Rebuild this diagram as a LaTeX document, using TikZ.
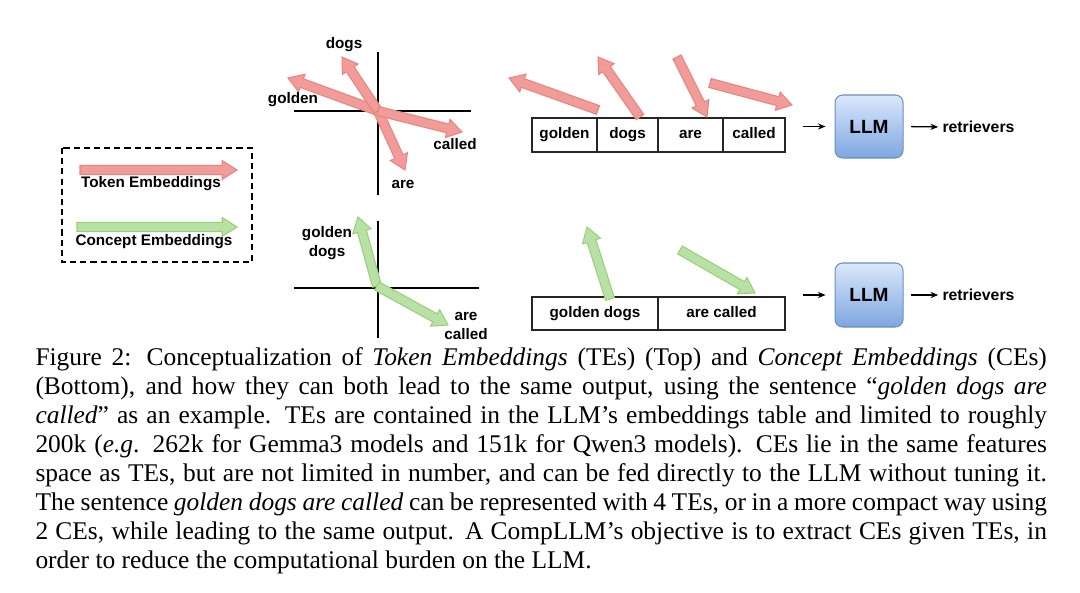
\documentclass[tikz,border=0pt]{standalone}
\usepackage{fontspec}
\setmainfont{Liberation Serif}
\setsansfont{Liberation Sans}
\usetikzlibrary{calc,arrows.meta}

\definecolor{tefill}{HTML}{F19C99}
\definecolor{tedraw}{HTML}{E8837F}
\definecolor{cefill}{HTML}{B9E0A5}
\definecolor{cedraw}{HTML}{97D077}
\definecolor{llmtop}{HTML}{DAE8FC}
\definecolor{llmbot}{HTML}{7EA6E0}
\definecolor{llmdraw}{HTML}{6C8EBF}

\def\pxu{0.393pt}
% fat arrow from #2 to #3
\newcommand{\embarrow}[3]{%
  \path ($(#3)!5.8pt!(#2)$) coordinate (hb);
  \draw[#1] ($(#2)!1.8pt!90:(#3)$) -- ($(hb)!1.8pt!90:(#3)$) -- ($(hb)!3.7pt!90:(#3)$)
    -- (#3) -- ($(hb)!3.7pt!-90:(#3)$) -- ($(hb)!1.8pt!-90:(#3)$) -- ($(#2)!1.8pt!-90:(#3)$) -- cycle;}

\begin{document}
\begin{tikzpicture}[x=\pxu, y=-\pxu,
  lbl/.style={font=\sffamily\bfseries\fontsize{6}{7.5}\selectfont, inner sep=0, align=center},
  te/.style={fill=tefill, draw=tedraw, line width=0.4pt},
  ce/.style={fill=cefill, draw=cedraw, line width=0.4pt},
  cell/.style={draw=black!85, line width=0.5pt, inner sep=0, text height=4.4pt, text depth=1.3pt,
    font=\sffamily\bfseries\fontsize{6}{7.5}\selectfont},
  llm/.style={draw=llmdraw, line width=0.4pt, rounded corners=3pt, top color=llmtop, bottom color=llmbot,
    minimum width=68*\pxu, minimum height=63*\pxu, font=\sffamily\bfseries\fontsize{7.5}{9}\selectfont},
  thinarr/.style={-{Stealth[length=3pt,width=2.4pt]}, line width=0.5pt},
  axis/.style={line width=0.5pt}]
\useasboundingbox (0,0) rectangle (1080,592);

% legend
\draw[line width=0.8pt, dash pattern=on 2.4pt off 1.6pt] (62,148) rectangle (252,262);
\coordinate (lt1) at (80,170); \coordinate (lt2) at (237,170);
\coordinate (lc1) at (77,227); \coordinate (lc2) at (237,227);
\embarrow{te}{lt1}{lt2}
\embarrow{ce}{lc1}{lc2}
\node[lbl] (tetext) at (151,184) {Token Embeddings};
\node[lbl] (cetext) at (154,242) {Concept Embeddings};

% token space
\draw[axis] (378,52) -- (378,195);
\draw[axis] (294,111) -- (471,111);
\coordinate (o1) at (378,111);
\coordinate (tgolden) at (288,78);
\coordinate (tdogs) at (342,57);
\coordinate (tare) at (405,170);
\coordinate (tcalled) at (462,132);
\embarrow{te}{o1}{tgolden}
\embarrow{te}{o1}{tdogs}
\embarrow{te}{o1}{tare}
\embarrow{te}{o1}{tcalled}
\node[lbl] (ldogs) at (344,45) {dogs};
\node[lbl] (lgolden) at (293,100) {golden};
\node[lbl] (lcalled) at (455,144) {called};
\node[lbl] (lare) at (403,184) {are};

% concept space
\draw[axis] (378,221) -- (378,338);
\draw[axis] (294,288) -- (479,288);
\coordinate (o2) at (377,286);
\coordinate (cgd) at (358,217);
\coordinate (cac) at (448,325);
\embarrow{ce}{o2}{cgd}
\embarrow{ce}{o2}{cac}
\node[lbl] (lgd) at (327,243) {golden\\dogs};
\node[lbl] (lac) at (466,326) {are\\called};

% token input
\node[cell, minimum width=65*\pxu, minimum height=34*\pxu] (tg) at (564.5,135) {golden};
\node[cell, minimum width=61*\pxu, minimum height=34*\pxu] (td) at (627.5,135) {dogs};
\node[cell, minimum width=65*\pxu, minimum height=34*\pxu] (ta) at (690.5,135) {are};
\node[cell, minimum width=62*\pxu, minimum height=34*\pxu] (tc) at (754,135) {called};
\coordinate (ag1) at (598,110); \coordinate (ag2) at (509,78);
\coordinate (ad1) at (640,117); \coordinate (ad2) at (598,57);
\coordinate (aa1) at (677,57);  \coordinate (aa2) at (707,117);
\coordinate (ac1) at (710,83);  \coordinate (ac2) at (792,105);
\embarrow{te}{ag1}{ag2}
\embarrow{te}{ad1}{ad2}
\embarrow{te}{aa1}{aa2}
\embarrow{te}{ac1}{ac2}

\node[llm] (llm1) at (869,126.5) {LLM};
\node[lbl, anchor=west, font=\sffamily\bfseries\fontsize{6.2}{7.5}\selectfont] (ret1) at (942,127) {retrievers};
\draw[thinarr, shorten <=6.7pt, shorten >=3.5pt] (llm1.west -| tc.east) -- (llm1.west);
\draw[thinarr, shorten <=3pt, shorten >=1.5pt] (llm1.east) -- (ret1.west);

% concept input
\node[cell, minimum width=126*\pxu, minimum height=33*\pxu] (cg) at (595,313.5) {golden dogs};
\node[cell, minimum width=127*\pxu, minimum height=33*\pxu] (cc) at (721.5,313.5) {are called};
\coordinate (bg1) at (610,299); \coordinate (bg2) at (587,227);
\coordinate (bc1) at (680,250); \coordinate (bc2) at (755,293);
\embarrow{ce}{bg1}{bg2}
\embarrow{ce}{bc1}{bc2}

\node[llm, minimum height=64*\pxu] (llm2) at (869,295) {LLM};
\node[lbl, anchor=west, font=\sffamily\bfseries\fontsize{6.2}{7.5}\selectfont] (ret2) at (942,295) {retrievers};
\draw[thinarr, shorten <=6.7pt, shorten >=3.5pt] (llm2.west -| cc.east) -- (llm2.west);
\draw[thinarr, shorten <=3pt, shorten >=1.5pt] (llm2.east) -- (ret2.west);

% caption
\node[anchor=base west, inner sep=0] (caption) at (35,365) {\parbox[t]{397.5pt}{\fontsize{10}{11.4}\selectfont
Figure 2: Conceptualization of \emph{Token Embeddings} (TEs) (Top) and \emph{Concept Embeddings} (CEs)\linebreak
(Bottom), and how they can both lead to the same output, using the sentence ``\emph{golden dogs are\linebreak
called}'' as an example. TEs are contained in the LLM's embeddings table and limited to roughly\linebreak
200k (\emph{e.g}. 262k for Gemma3 models and 151k for Qwen3 models). CEs lie in the same features\linebreak
space as TEs, but are not limited in number, and can be fed directly to the LLM without tuning it.\linebreak
The sentence \emph{golden dogs are called} can be represented with 4 TEs, or in a more compact way using\linebreak
2 CEs, while leading to the same output. A CompLLM's objective is to extract CEs given TEs, in\linebreak
order to reduce the computational burden on the LLM.}};
\end{tikzpicture}
\end{document}
